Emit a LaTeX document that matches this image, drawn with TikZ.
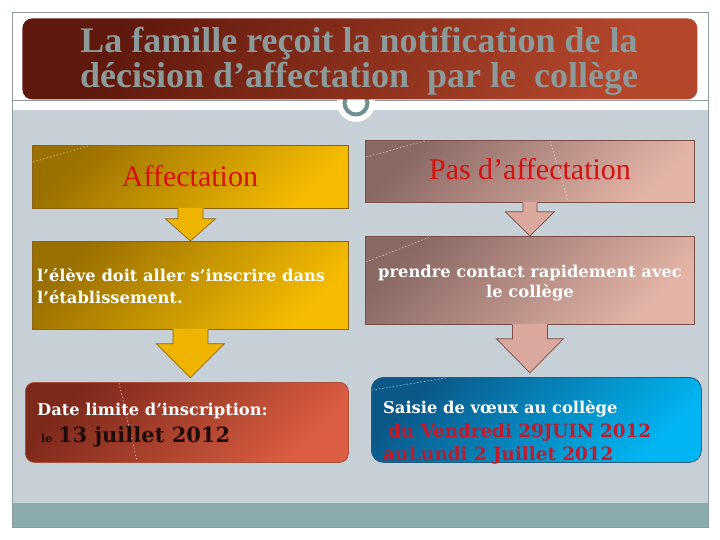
\documentclass[tikz,border=0pt]{standalone}
\usepackage{fontspec}
\setmainfont{Liberation Serif}
\newfontfamily\georg{DejaVu Serif}
\usetikzlibrary{calc}
\definecolor{panel}{HTML}{C6D0D6}
\definecolor{band}{HTML}{8BACAC}
\definecolor{framec}{HTML}{8E9C9C}
\definecolor{titleA}{HTML}{5E180C}
\definecolor{titleB}{HTML}{B4462C}
\definecolor{titletext}{HTML}{8C9A9A}
\definecolor{ringc}{HTML}{6F9090}
\definecolor{goldA}{HTML}{9A7000}
\definecolor{goldB}{HTML}{F5BC00}
\definecolor{goldE}{HTML}{8A6418}
\definecolor{roseA}{HTML}{8A6864}
\definecolor{roseB}{HTML}{E3B4A6}
\definecolor{roseE}{HTML}{7A4E48}
\definecolor{rustA}{HTML}{7C281A}
\definecolor{rustB}{HTML}{DB5E42}
\definecolor{rustE}{HTML}{A9503C}
\definecolor{blueA}{HTML}{0B5888}
\definecolor{blueB}{HTML}{00B6F2}
\definecolor{blueE}{HTML}{2F5A74}
\definecolor{redtxt}{HTML}{D41010}
\definecolor{datetxt}{HTML}{1E0A06}
\definecolor{voeuxred}{HTML}{C21A2C}
\definecolor{goldarrow}{HTML}{EFB400}
\definecolor{rosearrow}{HTML}{DAA89C}
\tikzset{
  boxbase/.style={rectangle, line width=0.8pt, inner sep=0pt, anchor=north west},
  goldbox/.style={boxbase, draw=goldE, top color=goldA, bottom color=goldB, shading angle=45},
  rosebox/.style={boxbase, draw=roseE, top color=roseA, bottom color=roseB, shading angle=45},
  rustbox/.style={boxbase, draw=rustE, rounded corners=9pt, top color=rustA, bottom color=rustB, shading angle=45},
  bluebox/.style={boxbase, draw=blueE, rounded corners=12pt, top color=blueA, bottom color=blueB, shading angle=45},
  titlebox/.style={boxbase, rounded corners=10pt, top color=titleA, bottom color=titleB, shading angle=60},
  titletxt/.style={anchor=base, inner sep=0pt, text=titletext, font=\fontsize{36}{40}\selectfont\bfseries},
  headtxt/.style={anchor=base, inner sep=0pt, text=redtxt, font=\fontsize{30}{33}\selectfont},
  bodytxt/.style={anchor=base west, inner sep=0pt, text=white, font=\georg\fontsize{16.3}{19}\selectfont\bfseries},
  datetxtstyle/.style={bodytxt, text=voeuxred, font=\georg\fontsize{18.3}{21}\selectfont\bfseries},
  goldarr/.style={fill=goldarrow},
  rosearr/.style={fill=rosearrow},
  goldline/.style={draw=goldE, line width=0.7pt, line join=miter},
  roseline/.style={draw=roseE, line width=0.7pt, line join=miter},
  deco/.style={white, line width=0.5pt, dash pattern=on 1.5pt off 2pt, opacity=0.75}
}
\begin{document}
\begin{tikzpicture}[x=1pt,y=-1pt]
\useasboundingbox (0,0) rectangle (720,540);
\fill[white] (0,0) rectangle (720,540);
% slide background
\fill[panel] (12,110) rectangle (708,503);
\fill[band] (12,503) rectangle (708,527);
\draw[framec, line width=0.8pt] (12,12) rectangle (708,527);
\draw[framec, line width=0.8pt] (12,100) -- (708,100);
% ring below the title
\fill[white] (356,103) circle (19);
\draw[ringc, line width=4pt, fill=white] (356,103) circle (11.5);
% title
\node[titlebox, minimum width=675pt, minimum height=81pt] (title) at (22,18) {};
\node[titletxt] (t1) at (359,53) {La famille reçoit la notification de la};
\node[titletxt] (t2) at (359,88) {décision d’affectation\ \ par le\ \ collège};
% boxes
\node[goldbox, minimum width=316pt, minimum height=63pt] (aff) at (32,145) {};
\node[goldbox, minimum width=316pt, minimum height=88pt] (ins) at (32,241) {};
\node[rustbox, minimum width=323pt, minimum height=80pt] (lim) at (25,382) {};
\node[rosebox, minimum width=329pt, minimum height=62pt] (pas) at (365,140) {};
\node[rosebox, minimum width=329pt, minimum height=88pt] (con) at (365,236) {};
\node[bluebox, minimum width=330pt, minimum height=85pt] (voe) at (371,377) {};
% decorative dashed lines
\draw[deco] (33,162) -- (88,146);
\draw[deco] (366,157) -- (425,141);
\draw[deco] (550,141) -- (568,201);
\draw[deco] (366,262) -- (430,237);
\draw[deco] (119,383) -- (137,461);
\draw[deco] (372,390) -- (446,378);
% arrows
\coordinate (a1tip) at (ins.north);
\fill[goldarr] ($(aff.south)+(-12.5,-1)$) -- ($(aff.south)+(-12.5,10)$) -- ($(aff.south)+(-25,10)$) -- (a1tip) -- ($(aff.south)+(25,10)$) -- ($(aff.south)+(12.5,10)$) -- ($(aff.south)+(12.5,-1)$) -- cycle;
\draw[goldline] ($(aff.south)+(-12.5,0.4)$) -- ($(aff.south)+(-12.5,10)$) -- ($(aff.south)+(-25,10)$) -- (a1tip) -- ($(aff.south)+(25,10)$) -- ($(aff.south)+(12.5,10)$) -- ($(aff.south)+(12.5,0.4)$);
\coordinate (a2tip) at ($(ins.south)+(0,48)$);
\fill[goldarr] ($(ins.south)+(-17.5,-1)$) -- ($(ins.south)+(-17.5,14)$) -- ($(ins.south)+(-34,14)$) -- (a2tip) -- ($(ins.south)+(34,14)$) -- ($(ins.south)+(17.5,14)$) -- ($(ins.south)+(17.5,-1)$) -- cycle;
\draw[goldline] ($(ins.south)+(-17.5,0.4)$) -- ($(ins.south)+(-17.5,14)$) -- ($(ins.south)+(-34,14)$) -- (a2tip) -- ($(ins.south)+(34,14)$) -- ($(ins.south)+(17.5,14)$) -- ($(ins.south)+(17.5,0.4)$);
\coordinate (a3tip) at (con.north);
\fill[rosearr] ($(pas.south)+(-7,-1)$) -- ($(pas.south)+(-7,9)$) -- ($(pas.south)+(-24.5,9)$) -- (a3tip) -- ($(pas.south)+(24.5,9)$) -- ($(pas.south)+(7,9)$) -- ($(pas.south)+(7,-1)$) -- cycle;
\draw[roseline] ($(pas.south)+(-7,0.4)$) -- ($(pas.south)+(-7,9)$) -- ($(pas.south)+(-24.5,9)$) -- (a3tip) -- ($(pas.south)+(24.5,9)$) -- ($(pas.south)+(7,9)$) -- ($(pas.south)+(7,0.4)$);
\coordinate (a4tip) at ($(con.south)+(0,48)$);
\fill[rosearr] ($(con.south)+(-17.5,-1)$) -- ($(con.south)+(-17.5,14)$) -- ($(con.south)+(-33.5,14)$) -- (a4tip) -- ($(con.south)+(33.5,14)$) -- ($(con.south)+(17.5,14)$) -- ($(con.south)+(17.5,-1)$) -- cycle;
\draw[roseline] ($(con.south)+(-17.5,0.4)$) -- ($(con.south)+(-17.5,14)$) -- ($(con.south)+(-33.5,14)$) -- (a4tip) -- ($(con.south)+(33.5,14)$) -- ($(con.south)+(17.5,14)$) -- ($(con.south)+(17.5,0.4)$);
% texts
\node[headtxt] (afftxt) at (190,187) {Affectation};
\node[headtxt] (pastxt) at (530,180) {Pas d’affectation};
\node[bodytxt] (i1) at (37,281) {l’élève doit aller s’inscrire dans};
\node[bodytxt] (i2) at (37,303) {l’établissement.};
\node[bodytxt, anchor=base] (c1) at (530,277) {prendre contact rapidement avec};
\node[bodytxt, anchor=base] (c2) at (530,297) {le collège};
\node[bodytxt] (d1) at (37,415) {Date limite d’inscription:};
\node[bodytxt, text=datetxt] (d2) at (41,442) {{\fontsize{11}{13}\selectfont le} {\fontsize{21}{24}\selectfont 13 juillet 2012}};
\node[bodytxt] (v1) at (383,413) {Saisie de vœux au collège};
\node[datetxtstyle] (v2) at (388,437) {du Vendredi 29JUIN 2012};
\node[datetxtstyle] (v3) at (383,460) {auLundi 2 Juillet 2012};
\end{tikzpicture}
\end{document}
